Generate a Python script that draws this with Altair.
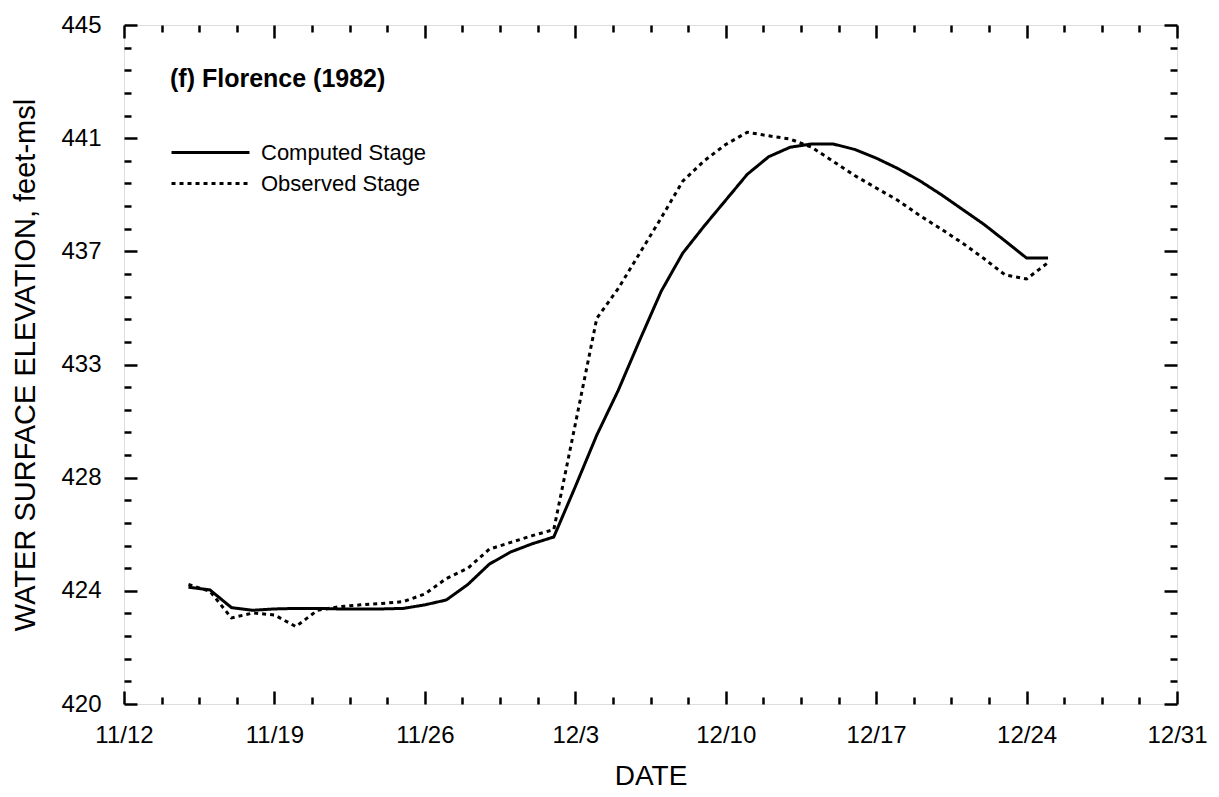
import altair as alt
import pandas as pd
from datetime import datetime, timezone, timedelta

# ---------------- data ----------------
dates = [
    "1982-11-15", "1982-11-16", "1982-11-17", "1982-11-18", "1982-11-19",
    "1982-11-20", "1982-11-21", "1982-11-22", "1982-11-23", "1982-11-24",
    "1982-11-25", "1982-11-26", "1982-11-27", "1982-11-28", "1982-11-29",
    "1982-11-30", "1982-12-01", "1982-12-02", "1982-12-03", "1982-12-04",
    "1982-12-05", "1982-12-06", "1982-12-07", "1982-12-08", "1982-12-09",
    "1982-12-10", "1982-12-11", "1982-12-12", "1982-12-13", "1982-12-14",
    "1982-12-15", "1982-12-16", "1982-12-17", "1982-12-18", "1982-12-19",
    "1982-12-20", "1982-12-21", "1982-12-22", "1982-12-23", "1982-12-24",
    "1982-12-25",
]
computed = [
    424.30, 424.20, 423.55, 423.45, 423.50, 423.52, 423.52, 423.50, 423.50, 423.50,
    423.52, 423.65, 423.83, 424.40, 425.15, 425.60, 425.90, 426.15, 428.00, 429.90,
    431.55, 433.40, 435.20, 436.60, 437.60, 438.55, 439.50, 440.15, 440.50, 440.62,
    440.62, 440.42, 440.10, 439.72, 439.28, 438.77, 438.22, 437.67, 437.05, 436.42,
    436.42,
]
observed = [
    424.40, 424.15, 423.17, 423.35, 423.28, 422.85, 423.45, 423.58, 423.65, 423.70,
    423.77, 424.05, 424.62, 425.00, 425.70, 425.95, 426.20, 426.42, 430.30, 434.20,
    435.30, 436.60, 437.90, 439.25, 440.00, 440.60, 441.05, 440.92, 440.80, 440.50,
    439.98, 439.46, 439.00, 438.55, 438.00, 437.50, 436.98, 436.41, 435.80, 435.65,
    436.25,
]
series_names = ["Computed Stage", "Observed Stage"]
panel_label = "(f) Florence (1982)"
x_title = "DATE"
y_title = "WATER SURFACE ELEVATION, feet-msl"

df = pd.concat([
    pd.DataFrame({"date": dates, "value": computed, "series": series_names[0]}),
    pd.DataFrame({"date": dates, "value": observed, "series": series_names[1]}),
])

# ---------------- layout ----------------
W, H = 1053, 679
FONT = "Liberation Sans"

def dt(m, d):
    return alt.DateTime(year=1982, month=m, date=d, utc=True)

xscale = alt.Scale(type="utc", domain=[dt(11, 12), dt(12, 31)])
yscale = alt.Scale(domain=[420, 445], nice=False, zero=False)

x_major = [dt(11, 12), dt(11, 19), dt(11, 26), dt(12, 3), dt(12, 10),
           dt(12, 17), dt(12, 24), dt(12, 31)]
t0 = datetime(1982, 11, 12, tzinfo=timezone.utc)
x_minor = [(t0 + timedelta(hours=42 * k)).timestamp() * 1000
           for k in range(29) if k % 4 != 0]
y_major = [420 + 25 * k / 6 for k in range(7)]
y_minor = [420 + 25 * k / 30 for k in range(31) if k % 5 != 0]

lines = alt.Chart(df).mark_line(color="black", strokeWidth=3).encode(
    x=alt.X("date:T", scale=xscale, axis=alt.Axis(
        orient="bottom", values=x_major, format="%-m/%-d",
        labelFont=FONT, labelFontSize=24, labelColor="black", labelPadding=19,
        labelFlush=False, labelOverlap=False,
        ticks=False, tickSize=0, domain=False, grid=False,
        title=x_title, titleFont=FONT, titleFontSize=28, titleFontWeight="normal",
        titleColor="black", titlePadding=15)),
    y=alt.Y("value:Q", scale=yscale, axis=alt.Axis(
        orient="left", values=y_major, format="d",
        labelFont=FONT, labelFontSize=24, labelColor="black", labelPadding=23,
        labelFlush=False, labelOverlap=False,
        ticks=False, tickSize=0, domain=False, grid=False,
        title=y_title, titleFont=FONT, titleFontSize=29, titleFontWeight="normal",
        titleColor="black", titlePadding=20)),
    strokeDash=alt.StrokeDash("series:N", scale=alt.Scale(
        domain=series_names, range=[[1, 0], [4, 4]]),
        legend=alt.Legend(
            orient="none", legendX=46, legendY=42, padding=0,
            title=panel_label, titleFont=FONT, titleFontSize=25,
            titleFontWeight="bold", titleColor="black", titlePadding=49,
            titleLimit=600,
            symbolType="M-4,0L4,0", symbolSize=380, symbolStrokeWidth=3,
            symbolStrokeColor="black", symbolOffset=29,
            labelFont=FONT, labelFontSize=22, labelColor="black",
            labelOffset=39, labelLimit=600, rowPadding=8)),
)


def tick_layer(xorient, yorient, xvals, yvals, size):
    return alt.Chart(df).mark_line(opacity=0).encode(
        x=alt.X("date:T", scale=xscale, axis=alt.Axis(
            orient=xorient, offset=-H, values=xvals, labels=False,
            domain=False, grid=False, ticks=True, tickSize=size,
            tickWidth=2.5, tickColor="black", title=None)),
        y=alt.Y("value:Q", scale=yscale, axis=alt.Axis(
            orient=yorient, offset=-W, values=yvals, labels=False,
            domain=False, grid=False, ticks=True, tickSize=size,
            tickWidth=2.5, tickColor="black", title=None)),
    )


chart = alt.layer(
    lines,
    tick_layer("top", "right", x_major, y_major, 13),
    tick_layer("bottom", "left", x_major, y_major, 13),
    tick_layer("top", "right", x_minor, y_minor, 7),
    tick_layer("bottom", "left", x_minor, y_minor, 7),
).resolve_axis(x="independent", y="independent").properties(
    width=W, height=H,
    autosize=alt.AutoSizeParams(type="none"),
    padding={"left": 116, "top": 17, "right": 34, "bottom": 88},
).configure_view(stroke="black", strokeWidth=3).configure(background="white")

chart.save("out.html", embed_options={"renderer": "svg", "actions": False})
